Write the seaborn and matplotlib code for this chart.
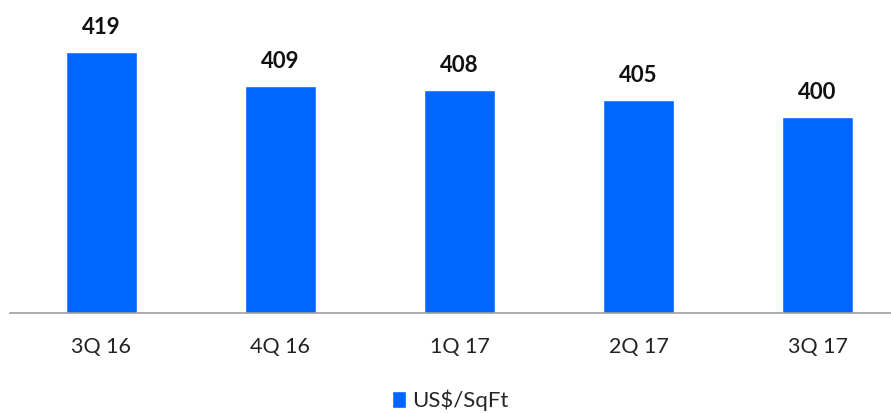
import matplotlib
matplotlib.use("Agg")
import matplotlib.pyplot as plt
import pandas as pd
import seaborn as sns

quarters = ["3Q 16", "4Q 16", "1Q 17", "2Q 17", "3Q 17"]
price = [419, 409, 408, 405, 400]
series_name = "US$/SqFt"

sns.set_style("white")
plt.rcParams["font.family"] = ["Liberation Sans Narrow", "Lato", "DejaVu Sans"]

df = pd.DataFrame({"quarter": quarters, "value": price})

fig = plt.figure(figsize=(8.91, 4.13), dpi=100)
ax = fig.add_axes([10 / 891, 1 - 313 / 413, 1 - 10 / 891, 313 / 413])
sns.barplot(data=df, x="quarter", y="value", color="#0066FF", saturation=1,
            width=0.4, ax=ax, label=series_name)

ax.set_ylim(342.7, 434.2)
ax.set_xlim(-0.51, 4.41)
for i, v in enumerate(price):
    ax.annotate(str(v), (i, v), xytext=(0, 13), textcoords="offset points",
                ha="center", va="baseline", fontsize=16, fontweight="bold",
                color="#111111")

for s in ["top", "right", "left"]:
    ax.spines[s].set_visible(False)
ax.spines["bottom"].set_color("#a0a0a0")
ax.spines["bottom"].set_linewidth(1.2)
ax.set_yticks([])
ax.set_xlabel("")
ax.set_ylabel("")
ax.tick_params(axis="x", length=0, pad=17, labelsize=15.5, colors="#222222")

ax.legend(loc="center", bbox_to_anchor=(0.5, -0.278), frameon=False,
          fontsize=16, handlelength=0.6, handleheight=0.8, handletextpad=0.3)

fig.savefig("out.png", dpi=100)
